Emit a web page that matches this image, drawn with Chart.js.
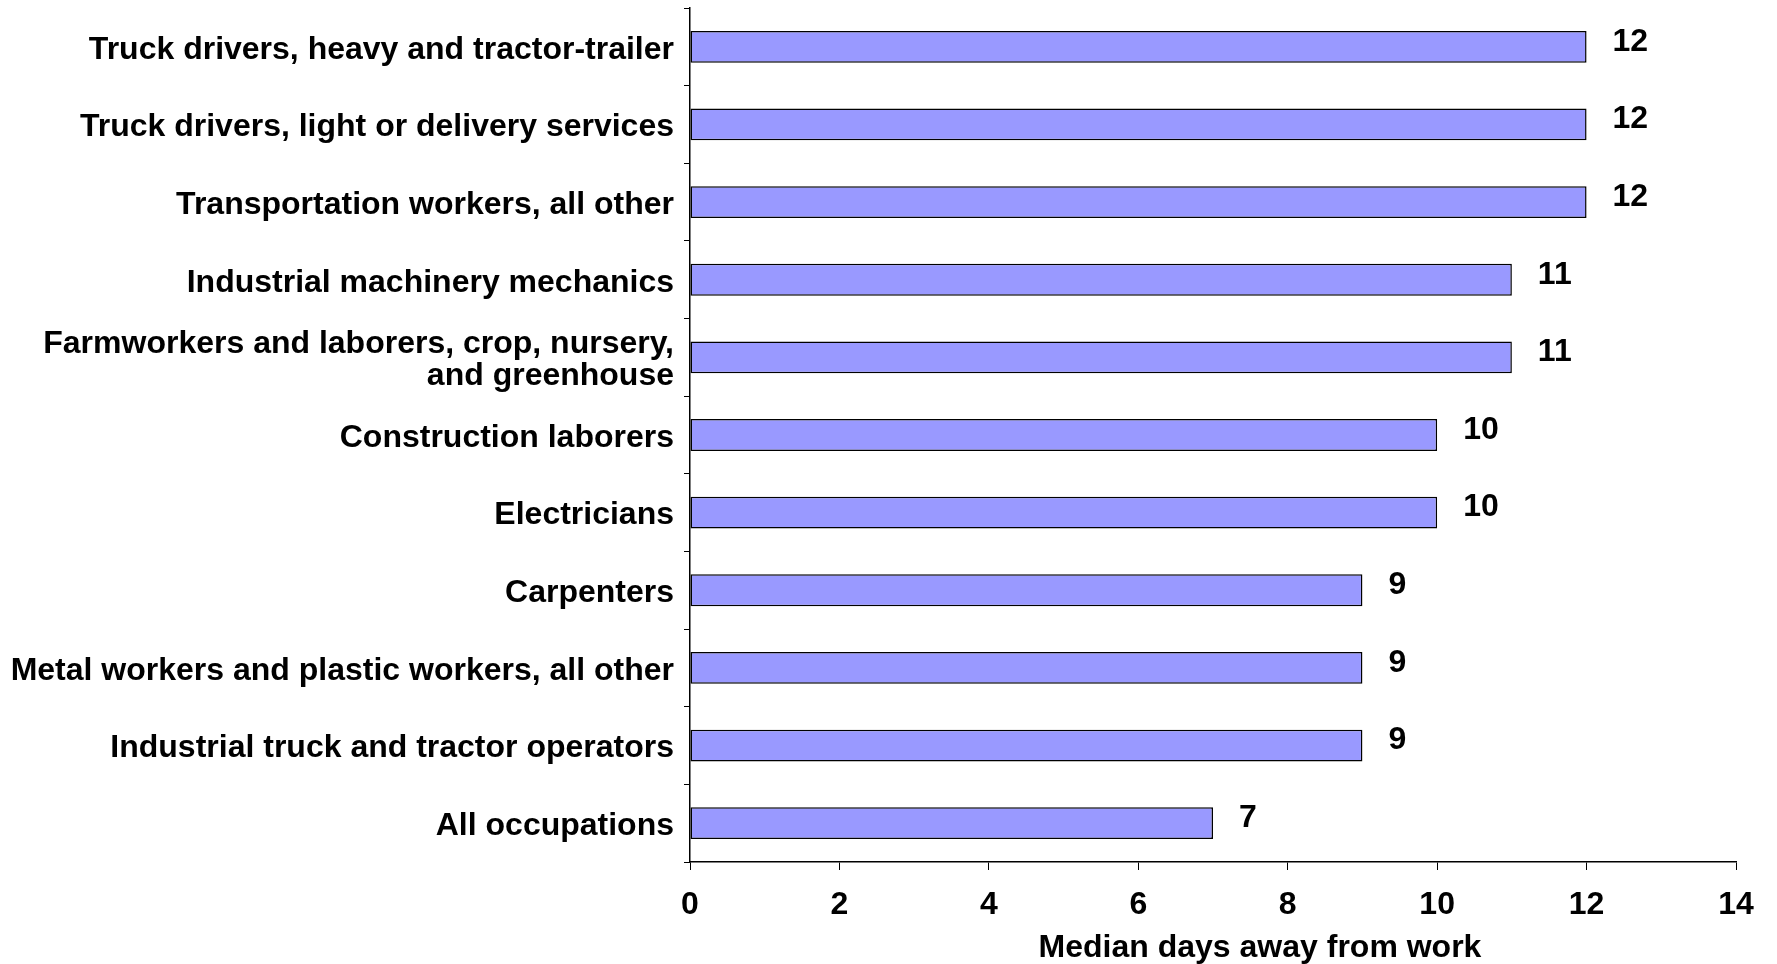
<!DOCTYPE html>
<html>
<head>
<meta charset="utf-8">
<script src="https://cdn.jsdelivr.net/npm/chart.js@4.4.0/dist/chart.umd.min.js"></script>
<style>
  html, body { margin: 0; padding: 0; background: #fff; }
  #wrap { width: 1777px; height: 964px; }
</style>
</head>
<body>
<div id="wrap"><canvas id="daysChart" width="1777" height="964"></canvas></div>
<script>
// Occupations, top to bottom
const occupations = [
    "Truck drivers, heavy and tractor-trailer",
    "Truck drivers, light or delivery services",
    "Transportation workers, all other",
    "Industrial machinery mechanics",
    ["Farmworkers and laborers, crop, nursery,", "and greenhouse"],
    "Construction laborers",
    "Electricians",
    "Carpenters",
    "Metal workers and plastic workers, all other",
    "Industrial truck and tractor operators",
    "All occupations"
];
const medianDays = [12, 12, 12, 11, 11, 10, 10, 9, 9, 9, 7];
const xTicks = [0, 2, 4, 6, 8, 10, 12, 14];
const xTitle = 'Median days away from work';

const fontFamily = "'Liberation Sans', Arial, sans-serif";
const boldFont = (size, lh) => ({ family: fontFamily, size: size, weight: 'bold', lineHeight: lh || 1.2 });

// value labels to the right of each bar
const valueLabels = {
    id: 'valueLabels',
    afterDatasetsDraw(chart) {
        const ctx = chart.ctx;
        const meta = chart.getDatasetMeta(0);
        ctx.save();
        ctx.font = 'bold 32px ' + fontFamily;
        ctx.fillStyle = '#000';
        ctx.textAlign = 'left';
        ctx.textBaseline = 'middle';
        meta.data.forEach((bar, i) => {
            ctx.fillText(String(medianDays[i]), bar.x + 26, bar.y - 5);
        });
        ctx.restore();
    }
};

// x axis title, sits a bit right of the plot centre in the original
const axisTitle = {
    id: 'axisTitle',
    afterDraw(chart) {
        const ctx = chart.ctx;
        const area = chart.chartArea;
        ctx.save();
        ctx.font = 'bold 32px ' + fontFamily;
        ctx.fillStyle = '#000';
        ctx.textAlign = 'center';
        ctx.textBaseline = 'middle';
        ctx.fillText(xTitle, (area.left + area.right) / 2 + 47, area.bottom + 86);
        ctx.restore();
    }
};

new Chart(document.getElementById('daysChart').getContext('2d'), {
    type: 'bar',
    data: {
        labels: occupations,
        datasets: [{
            data: medianDays,
            backgroundColor: '#9999ff',
            borderColor: '#000',
            borderWidth: 1.5,
            borderSkipped: false,
            barPercentage: 0.41,
            categoryPercentage: 1
        }]
    },
    options: {
        indexAxis: 'y',
        responsive: false,
        animation: false,
        layout: { padding: { top: 8, right: 41, left: 0, bottom: 0 } },
        plugins: {
            legend: { display: false },
            tooltip: { enabled: false }
        },
        scales: {
            x: {
                min: 0,
                max: 14,
                afterBuildTicks: scale => { scale.ticks = xTicks.map(v => ({ value: v })); },
                afterFit: scale => { scale.height = 102; scale.paddingRight = 0; },
                grid: { drawOnChartArea: false, drawTicks: true, tickLength: 8, color: '#000' },
                border: { color: '#000', width: 1.5 },
                ticks: { color: '#000', font: boldFont(32), padding: 16 }
            },
            y: {
                afterFit: scale => { scale.width = 690; scale.paddingTop = 0; scale.paddingBottom = 0; },
                grid: { drawOnChartArea: false, drawTicks: true, tickLength: 6, offset: true, color: '#000' },
                border: { color: '#000', width: 1.5 },
                ticks: { color: '#000', font: boldFont(32, 1.0), padding: 10, labelOffset: 3, autoSkip: false }
            }
        }
    },
    plugins: [valueLabels, axisTitle]
});
</script>
</body>
</html>
